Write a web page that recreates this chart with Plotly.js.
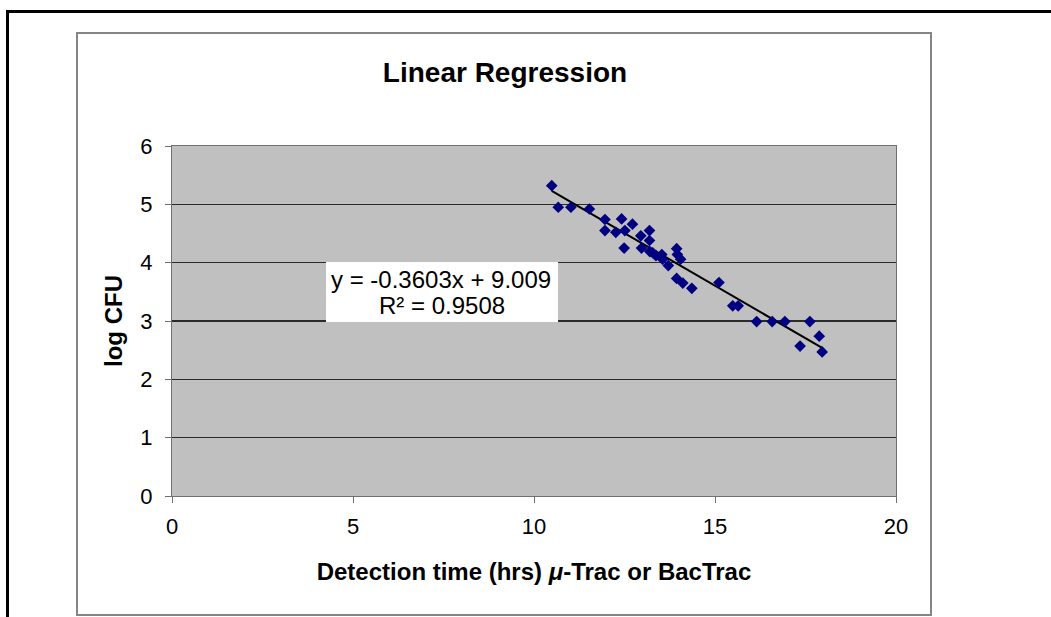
<!DOCTYPE html>
<html>
<head>
<meta charset="utf-8">
<script src="https://cdn.plot.ly/plotly-3.0.1.min.js"></script>
<style>
  html, body { margin: 0; padding: 0; background: #fff; }
  #wrap { position: relative; width: 1051px; height: 617px; overflow: hidden; }
  #chart { position: absolute; left: 0; top: 0; width: 1051px; height: 617px; }
  #outer { position: absolute; left: 6px; top: 10px; width: 1060px; height: 640px; border-left: 3px solid #000; border-top: 3px solid #000; pointer-events: none; }
  #inner { position: absolute; left: 76px; top: 32px; width: 852px; height: 580px; border: 2px solid #858585; pointer-events: none; }
</style>
</head>
<body>
<div id="wrap">
  <div id="chart"></div>
  <div id="outer"></div>
  <div id="inner"></div>
</div>
<script>
// Detection time (hrs) and log CFU
const detectionTime = [10.49, 10.67, 11.02, 11.53, 11.96, 11.96, 12.26, 12.42, 12.51, 12.72,
  12.49, 12.95, 13.19, 13.19, 12.97, 13.20, 13.28, 13.37, 13.53, 13.55,
  13.71, 13.94, 13.96, 14.05, 13.94, 14.11, 14.36, 15.11, 15.49, 15.64,
  16.15, 16.58, 16.93, 17.62, 17.35, 17.88, 17.96];
const logCFU = [5.32, 4.95, 4.95, 4.92, 4.74, 4.55, 4.52, 4.75, 4.55, 4.66,
  4.25, 4.46, 4.55, 4.38, 4.25, 4.19, 4.17, 4.12, 4.14, 4.06,
  3.95, 4.24, 4.14, 4.06, 3.73, 3.65, 3.56, 3.66, 3.26, 3.26,
  2.99, 2.99, 2.99, 2.99, 2.57, 2.74, 2.47];
const slope = -0.3603;
const intercept = 9.009;
const rSquared = 0.9508;
const xTicks = [0, 5, 10, 15, 20];
const yTicks = [0, 1, 2, 3, 4, 5, 6];

const xMin = Math.min(...detectionTime), xMax = Math.max(...detectionTime);
const fitX = [xMin, xMax];
const fitY = fitX.map(x => slope * x + intercept);

const font = "Liberation Sans, Arial, sans-serif";

const traces = [
  { x: fitX, y: fitY, mode: 'lines', type: 'scatter',
    line: { color: '#000', width: 2 }, hoverinfo: 'skip', showlegend: false },
  { x: detectionTime, y: logCFU, mode: 'markers', type: 'scatter',
    marker: { symbol: 'diamond', size: 9, color: '#000080' }, showlegend: false }
];

// plot area in pixels: x 172..896, y 146..496
const px = v => (v - 172) / 724;
const py = v => (496 - v) / 350;

const layout = {
  width: 1051, height: 617,
  margin: { l: 172, r: 155, t: 146, b: 121 },
  paper_bgcolor: '#fff',
  plot_bgcolor: '#c0c0c0',
  font: { family: font, color: '#000', size: 22 },
  title: { text: '<b>Linear Regression</b>', font: { family: font, size: 28, color: '#000' },
    x: 505 / 1051, xref: 'container', xanchor: 'center', y: 1 - 72 / 617, yref: 'container', yanchor: 'middle' },
  xaxis: {
    range: [0, 20], tickvals: xTicks, ticktext: xTicks.map(String),
    showgrid: false, zeroline: false,
    showline: true, linecolor: '#707070', linewidth: 1, mirror: true,
    ticks: 'outside', ticklen: 6, tickcolor: '#707070', ticklabelstandoff: 5,
    tickfont: { family: font, size: 22, color: '#000' },
    title: { text: '<b>Detection time (hrs) <i>μ</i>-Trac or BacTrac</b>', font: { family: font, size: 24, color: '#000' }, standoff: 24 }
  },
  yaxis: {
    range: [0, 6], tickvals: yTicks, ticktext: yTicks.map(String),
    showgrid: true, gridcolor: '#2a2a2a', gridwidth: 1.5, zeroline: false,
    showline: true, linecolor: '#707070', linewidth: 1, mirror: true,
    ticks: 'outside', ticklen: 6, tickcolor: '#707070', ticklabelstandoff: 8,
    tickfont: { family: font, size: 22, color: '#000' },
    title: { text: '<b>log CFU</b>', font: { family: font, size: 24, color: '#000' }, standoff: 10 }
  },
  shapes: [{
    type: 'rect', xref: 'paper', yref: 'paper',
    x0: px(326), x1: px(558), y0: py(322), y1: py(262),
    fillcolor: '#fff', line: { width: 0 }, layer: 'above'
  }],
  annotations: [
    { xref: 'paper', yref: 'paper', x: px(441), y: py(279), xanchor: 'center', yanchor: 'middle',
      text: 'y = ' + slope.toFixed(4) + 'x + ' + intercept.toFixed(3),
      showarrow: false, font: { family: font, size: 24, color: '#000' } },
    { xref: 'paper', yref: 'paper', x: px(442), y: py(305), xanchor: 'center', yanchor: 'middle',
      text: 'R² = ' + rSquared.toFixed(4),
      showarrow: false, font: { family: font, size: 24, color: '#000' } }
  ]
};

Plotly.newPlot('chart', traces, layout, { displayModeBar: false, staticPlot: true });
</script>
</body>
</html>
